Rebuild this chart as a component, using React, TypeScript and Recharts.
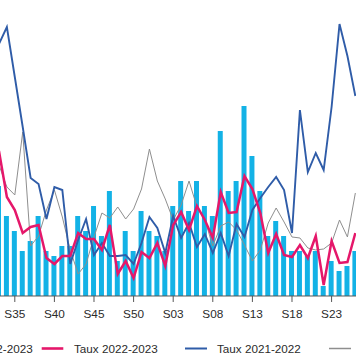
import { Bar, ComposedChart, Line, XAxis, YAxis } from "recharts";

// Weekly surveillance chart, cropped view: bars = weekly count, lines = weekly rates per season.
const WEEKS = [
  "S33", "S34", "S35", "S36", "S37", "S38", "S39", "S40", "S41", "S42",
  "S43", "S44", "S45", "S46", "S47", "S48", "S49", "S50", "S51", "S52",
  "S01", "S02", "S03", "S04", "S05", "S06", "S07", "S08", "S09", "S10",
  "S11", "S12", "S13", "S14", "S15", "S16", "S17", "S18", "S19", "S20",
  "S21", "S22", "S23", "S24", "S25", "S26",
];

const CASES_2223 = [
  22, 16, 13, 9, 11, 16, 9, 8, 10, 10,
  16, 13, 18, 12, 21, 7, 13, 9, 17, 13,
  12, 9, 18, 23, 17, 23, 18, 16, 33, 21,
  23, 38, 28, 21, 12, 15, 12, 9, 9, 8,
  9, 2, 7, 5, 6, 9,
];

const TAUX_2223 = [
  72.5, 49.5, 43, 31.5, 34.5, 35.5, 19, 16, 20, 20,
  31.5, 28.5, 28.5, 23, 35.5, 11, 17.5, 9, 22, 19,
  26.5, 15, 35.5, 42, 33, 45, 38, 29, 52, 41.5,
  42, 60, 53.5, 41.5, 21.5, 31, 20.5, 19.5, 25.5, 19,
  30, 5.5, 27.5, 16.5, 17, 31.5,
];

const TAUX_2122 = [
  126, 134.5, 109.5, 84.5, 59, 56, 38.5, 54.5, 53, 16,
  28, 38.5, 20.5, 26.5, 20, 20, 20.5, 16, 26.5, 39.5,
  34, 21.5, 40, 29, 36.5, 24.5, 31, 21.5, 31.5, 20,
  36, 29.5, 43, 49, 54.5, 59.5, 53, 31.5, 93, 62,
  71.5, 63, 94.5, 136, 120, 100,
];

const TAUX_2021 = [
  65.5, 54.5, 50.5, 82, 25, 30, 43, 53, 39.5, 23,
  11, 16, 29.5, 41.5, 39, 44.5, 38.5, 43.5, 53.5, 73.5,
  57.5, 48.5, 38, 45.5, 57.5, 44.5, 38, 25, 35, 37,
  33, 25.5, 17.5, 23, 36.5, 44, 37, 29.5, 29, 24,
  23, 23.5, 26.5, 38, 29.5, 51.5,
];

const TICKS = ["S35", "S40", "S45", "S50", "S03", "S08", "S13", "S18", "S23"];

const CYAN = "#13b2e6";
const PINK = "#e5176a";
const BLUE = "#2f5ca8";
const GREY = "#8e8e8e";
const FONT = "'Liberation Sans', Arial, sans-serif";

const data = WEEKS.map((week, i) => ({
  week,
  cases: CASES_2223[i],
  t2223: TAUX_2223[i],
  t2122: TAUX_2122[i],
  t2021: TAUX_2021[i],
}));

function LegendStrip() {
  const y = 352.7;
  return (
    <svg
      width={356}
      height={364}
      style={{ position: "absolute", left: 0, top: 0, pointerEvents: "none" }}
      fontFamily={FONT}
      fontSize={11.7}
      fill="#2b2b2b"
    >
      <rect x={-30} y={343} width={10} height={10} fill={CYAN} />
      <text x={32.7} y={y} textAnchor="end">Nombre 2022-2023</text>
      <line x1={41.7} x2={63.3} y1={348.5} y2={348.5} stroke={PINK} strokeWidth={2.6} />
      <text x={74} y={y}>Taux 2022-2023</text>
      <line x1={185} x2={207} y1={348.5} y2={348.5} stroke={BLUE} strokeWidth={2} />
      <text x={217} y={y}>Taux 2021-2022</text>
      <line x1={329} x2={351} y1={348.5} y2={348.5} stroke={GREY} strokeWidth={1.5} />
      <text x={361} y={y}>Taux 2020-2021</text>
    </svg>
  );
}

export default function App() {
  return (
    <div
      style={{
        position: "fixed",
        left: 0,
        top: 0,
        width: 356,
        height: 364,
        overflow: "hidden",
        background: "#fff",
      }}
    >
      <div style={{ position: "absolute", left: -4.84, top: 0 }}>
        <ComposedChart
          width={364.32}
          height={364}
          data={data}
          margin={{ top: 16, right: 0, bottom: 38, left: 0 }}
        >
          <XAxis
            dataKey="week"
            ticks={TICKS}
            interval={0}
            height={30}
            tickMargin={8}
            tick={{ fontSize: 11.8, fill: "#2b2b2b", fontFamily: FONT }}
            axisLine={{ stroke: "#555" }}
            tickLine={{ stroke: "#555" }}
          />
          <YAxis yAxisId="cases" hide domain={[0, 56]} />
          <YAxis yAxisId="taux" hide orientation="right" domain={[0, 140]} />
          <Bar yAxisId="cases" dataKey="cases" fill={CYAN} barSize={5} isAnimationActive={false} />
          <Line
            yAxisId="taux"
            type="linear"
            dataKey="t2021"
            stroke={GREY}
            strokeWidth={1}
            dot={false}
            isAnimationActive={false}
          />
          <Line
            yAxisId="taux"
            type="linear"
            dataKey="t2122"
            stroke={BLUE}
            strokeWidth={1.9}
            dot={false}
            isAnimationActive={false}
          />
          <Line
            yAxisId="taux"
            type="linear"
            dataKey="t2223"
            stroke={PINK}
            strokeWidth={2.5}
            dot={false}
            isAnimationActive={false}
          />
        </ComposedChart>
      </div>
      <LegendStrip />
    </div>
  );
}
